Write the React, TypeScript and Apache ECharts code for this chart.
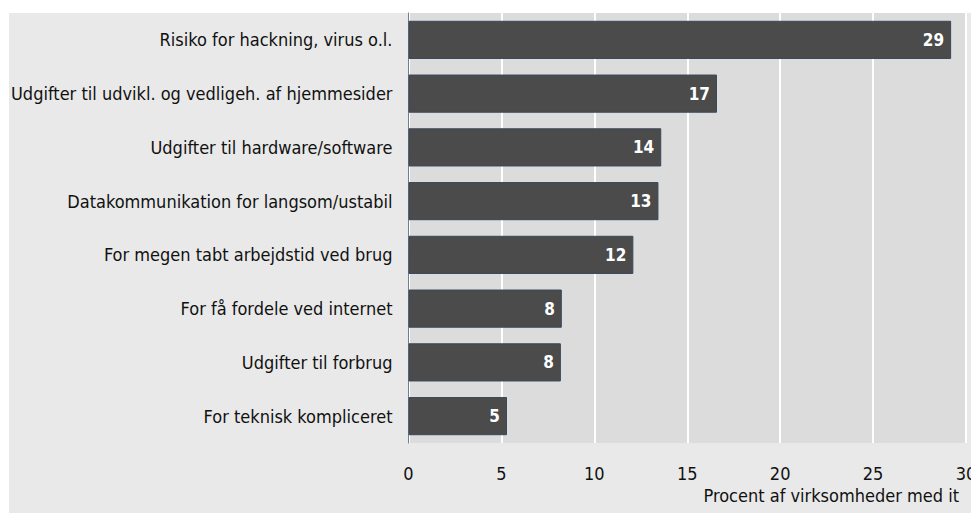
import React, { useEffect, useRef } from "react";
import * as echarts from "echarts";

const categories = [
  "Risiko for hackning, virus o.l.",
  "Udgifter til udvikl. og vedligeh. af hjemmesider",
  "Udgifter til hardware/software",
  "Datakommunikation for langsom/ustabil",
  "For megen tabt arbejdstid ved brug",
  "For få fordele ved internet",
  "Udgifter til forbrug",
  "For teknisk kompliceret",
];
const values = [29.2, 16.6, 13.6, 13.45, 12.1, 8.25, 8.2, 5.3];
const axisName = "Procent af virksomheder med it";

export default function App() {
  const ref = useRef<HTMLDivElement>(null);
  useEffect(() => {
    if (!ref.current) return;
    const chart = echarts.init(ref.current, null, { renderer: "svg" });
    const font = "'DejaVu Sans Condensed', 'DejaVu Sans', sans-serif";
    chart.setOption({
      animation: false,
      textStyle: { fontFamily: font },
      graphic: [
        {
          type: "rect",
          z: -10,
          silent: true,
          shape: { x: 1, y: 5, width: 975, height: 505 },
          style: { fill: "#e9e9e9" },
        },
        {
          type: "text",
          right: 20,
          top: 478,
          style: { text: axisName, fill: "#111", font: `18px ${font}` },
        },
      ],
      grid: {
        left: 400.5,
        right: 13,
        top: 5,
        bottom: 70,
        show: true,
        backgroundColor: "#dcdcdc",
        borderWidth: 0,
        containLabel: false,
        outerBoundsMode: "none",
        z: 0,
      },
      xAxis: {
        type: "value",
        min: 0,
        max: 30,
        interval: 5,
        axisLine: { show: false },
        axisTick: { show: false },
        axisLabel: { color: "#111", fontSize: 18, margin: 21, fontFamily: font },
        splitLine: { show: true, lineStyle: { color: "#ffffff", width: 2 } },
      },
      yAxis: {
        type: "category",
        data: categories,
        inverse: true,
        axisLine: { show: true, lineStyle: { color: "#6f7f93", width: 1 } },
        axisTick: { show: false },
        axisLabel: { color: "#111", fontSize: 18, margin: 16, fontFamily: font },
        splitLine: { show: false },
      },
      series: [
        {
          type: "bar",
          data: values,
          barCategoryGap: "29%",
          itemStyle: { color: "#4b4b4b", borderColor: "#3a485b", borderWidth: 1 },
          label: {
            show: true,
            position: "insideRight",
            distance: 7,
            color: "#ffffff",
            fontWeight: "bold",
            fontSize: 17,
            fontFamily: font,
            formatter: (p: any) => String(Math.round(p.value)),
          },
        },
      ],
    });
    return () => chart.dispose();
  }, []);
  return <div ref={ref} style={{ width: 971, height: 505 }} />;
}
